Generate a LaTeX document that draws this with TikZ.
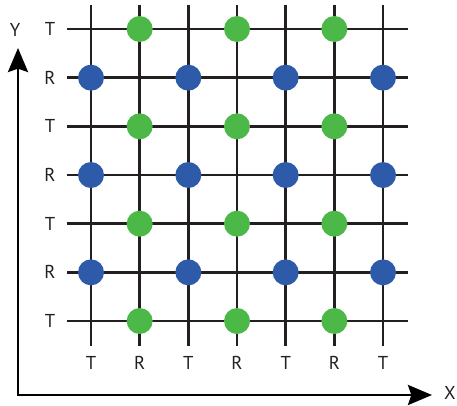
\documentclass[tikz,border=0pt]{standalone}
\usepackage{fontspec}
\setmainfont{PT Sans}
\usetikzlibrary{arrows.meta}
\definecolor{dotgreen}{RGB}{76,184,72}
\definecolor{dotblue}{RGB}{46,90,170}
\definecolor{gridgray}{RGB}{35,31,32}
\tikzset{>={Stealth[length=18pt, width=15pt, inset=2.5pt]}}
\tikzstyle{gridline} = [-, line width=2.1pt, draw=gridgray]
\tikzstyle{axisline} = [<->, line width=2.1pt, draw=black]
\tikzstyle{tdot} = [circle, fill=dotgreen, inner sep=0pt, minimum size=19.5pt]
\tikzstyle{rdot} = [circle, fill=dotblue, inner sep=0pt, minimum size=19.5pt]
\tikzstyle{lbl} = [inner sep=0pt, font=\fontsize{14}{16}\selectfont, text=gridgray]

\begin{document}
\begin{tikzpicture}[x=0.75pt, y=-0.75pt]
\useasboundingbox (0,0) rectangle (457,406);
% grid
\foreach \i in {0,...,6} {
  \coordinate (top\i) at (91+48.67*\i, 5);
  \coordinate (bot\i) at (91+48.67*\i, 346);
  \coordinate (lft\i) at (67, 29+48.67*\i);
  \coordinate (rgt\i) at (408, 29+48.67*\i);
  \draw [gridline] (top\i) -- (bot\i);
  \draw [gridline] (lft\i) -- (rgt\i);
}
% dots
\foreach \i in {1,3,5} \foreach \j in {0,2,4,6}
  \node [tdot] (t\i\j) at (91+48.67*\i, 29+48.67*\j) {};
\foreach \i in {0,2,4,6} \foreach \j in {1,3,5}
  \node [rdot] (r\i\j) at (91+48.67*\i, 29+48.67*\j) {};
% labels
\foreach \k/\t in {0/T, 1/R, 2/T, 3/R, 4/T, 5/R, 6/T} {
  \node [lbl] (row\k) at (50, 29+48.67*\k) {\t};
  \node [lbl] (col\k) at (91+48.67*\k, 363) {\t};
}
% axes
\coordinate (O) at (18, 395);
\coordinate (ytip) at (18, 48);
\coordinate (xtip) at (432, 395);
\draw [axisline] (ytip) -- (O) -- (xtip);
\node [lbl] (Y) at (15, 30) {Y};
\node [lbl] (X) at (450, 393) {X};
\end{tikzpicture}
\end{document}
